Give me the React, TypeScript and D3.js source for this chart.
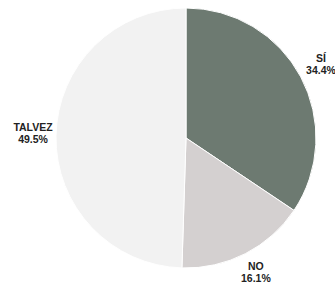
import React from "react"
import * as d3 from "d3"

const labels = ["SÍ", "NO", "TALVEZ"]
const values = [34.4, 16.1, 49.5]
const colors = ["#6d7a71", "#d4d0d0", "#f2f2f2"]

export default function App() {
  const width = 335
  const height = 285
  const cx = 186
  const cy = 138
  const radius = 130
  const labelRadius = 153

  const pie = d3.pie<number>().sort(null).value(d => d)
  const arcs = pie(values)
  const arc = d3.arc<d3.PieArcDatum<number>>().innerRadius(0).outerRadius(radius)
  const labelArc = d3.arc<d3.PieArcDatum<number>>().innerRadius(labelRadius).outerRadius(labelRadius)

  return (
    <svg width={width} height={height} style={{ position: "absolute", left: 0, top: 0 }}>
      <rect width={width} height={height} fill="#ffffff" />
      <g transform={"translate(" + cx + "," + cy + ")"}>
        {arcs.map((a, i) => (
          <path key={i} d={arc(a) || ""} fill={colors[i]} stroke="#ffffff" strokeWidth={1} />
        ))}
        {arcs.map((a, i) => {
          const [x, y] = labelArc.centroid(a)
          return (
            <text
              key={"l" + i}
              x={x}
              y={y}
              textAnchor="middle"
              fontFamily="Liberation Sans, Arial, sans-serif"
              fontWeight="bold"
              fontSize={10.5}
              fill="#222222"
            >
              <tspan x={x} dy="-0.4em">{labels[i]}</tspan>
              <tspan x={x} dy="1.15em">{values[i].toFixed(1) + "%"}</tspan>
            </text>
          )
        })}
      </g>
    </svg>
  )
}
